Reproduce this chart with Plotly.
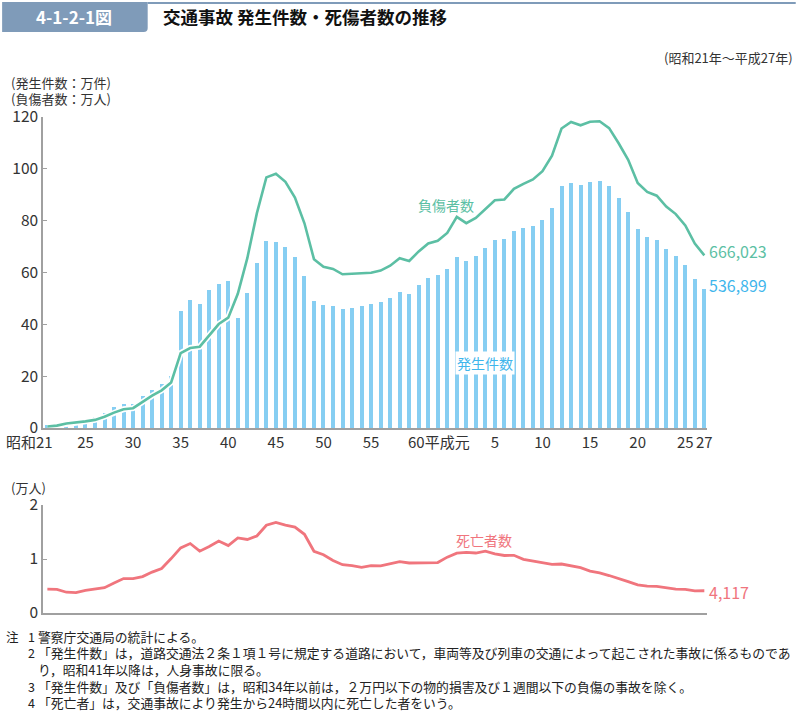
import plotly.graph_objects as go
import numpy as np

years = list(range(1946, 2016))

accidents = [12504, 19123, 21341, 25113, 33212, 41423, 58487, 80019, 93869, 93981,
             122691, 146833, 168799, 201292,
             449917, 493693, 479825, 531966, 557183, 567286, 425944, 521481, 635056, 720880,
             718080, 700290, 659283, 586713, 490452, 472938, 471041, 460649, 464037, 471573,
             476677, 485578, 502261, 526362, 518642, 552788, 579190, 590723, 614481, 661363,
             643097, 662392, 695345, 724675, 729461, 761794, 771085, 780401, 803882, 850371,
             931950, 947253, 936950, 948281, 952720, 934346, 887267, 832704, 766394, 737637,
             725924, 692084, 665157, 629033, 573842, 536899]

injured = [5923, 9193, 17609, 20242, 25450, 31274, 43321, 59280, 72390, 76501,
           102072, 124530, 145432, 175951,
           289156, 308697, 313813, 359089, 401117, 425666, 517775, 655377, 828071, 967000,
           981096, 949689, 889198, 789948, 651420, 622467, 613957, 593211, 594116, 596282,
           598719, 607346, 626192, 654822, 644321, 681346, 712330, 722179, 752845, 814832,
           790295, 810245, 844003, 878633, 881723, 922677, 942203, 958925, 990675, 1050399,
           1155697, 1181039, 1168029, 1181681, 1183617, 1157113, 1098564, 1034652, 945703, 911215,
           896297, 854613, 825392, 781492, 711374, 666023]

deaths = [4409, 4376, 3848, 3790, 4202, 4429, 4696, 5544, 6374, 6379,
          6751, 7575, 8248, 10079,
          12055, 12865, 11445, 12301, 13318, 12484, 13904, 13618, 14256, 16257,
          16765, 16278, 15918, 14574, 11432, 10792, 9734, 8945, 8783, 8466,
          8760, 8719, 9073, 9520, 9262, 9261, 9317, 9347, 10344, 11086,
          11227, 11109, 11452, 10942, 10649, 10684, 9943, 9642, 9214, 9012,
          9073, 8757, 8396, 7768, 7436, 6937, 6415, 5796, 5209, 4979,
          4948, 4691, 4438, 4388, 4113, 4117]

tick_years = [1950, 1955, 1960, 1965, 1970, 1975, 1980, 1993, 1998, 2003, 2008, 2013, 2015]
tick_text = ["25", "30", "35", "40", "45", "50", "55", "5", "10", "15", "20", "25", "27"]

notes = [
    ("注", "1", "警察庁交通局の統計による。"),
    ("", "2", "「発生件数」は，道路交通法２条１項１号に規定する道路において，車両等及び列車の交通によって起こされた事故に係るものであ"),
    ("", "", "り，昭和41年以降は，人身事故に限る。"),
    ("", "3", "「発生件数」及び「負傷者数」は，昭和34年以前は，２万円以下の物的損害及び１週間以下の負傷の事故を除く。"),
    ("", "4", "「死亡者」は，交通事故により発生から24時間以内に死亡した者をいう。"),
]

FONT = "Noto Sans CJK JP"
BAR_C = "#86cef2"
TEAL = "#5cbfa4"
BLUE_T = "#3fb6ec"
RED = "#f0757d"
AX = "#a0a0a0"

acc = np.array(accidents) / 10000
inj = np.array(injured) / 10000
dea = np.array(deaths) / 10000

W, H = 796, 711
L, R, T, B = 41, 89, 117, 98
pw = W - L - R
ph = H - T - B
X0, X1 = 1945.54, 2015.28

def px(xp):
    return (xp - L) / pw
def py(yp):
    return (H - B - yp) / ph

fig = go.Figure()
fig.add_trace(go.Bar(x=years, y=acc, width=0.42, marker=dict(color=BAR_C, line=dict(width=0)),
                     xaxis="x", yaxis="y", hoverinfo="skip"))
fig.add_trace(go.Scatter(x=years, y=inj, mode="lines", line=dict(color="white", width=6),
                         xaxis="x", yaxis="y", hoverinfo="skip"))
fig.add_trace(go.Scatter(x=years, y=inj, mode="lines", line=dict(color=TEAL, width=2.6),
                         xaxis="x", yaxis="y"))
fig.add_trace(go.Scatter(x=years, y=dea, mode="lines", line=dict(color=RED, width=2.8),
                         xaxis="x2", yaxis="y2"))

up_bottom = py(428)
low_top = py(505)

TICKF = dict(size=15.5, color="#333333", family=FONT)

fig.update_layout(
    width=W, height=H, margin=dict(l=L, r=R, t=T, b=B),
    paper_bgcolor="white", plot_bgcolor="white", showlegend=False,
    font=dict(family=FONT, color="#333333", size=15),
    bargap=0,
    xaxis=dict(domain=[0, 1], anchor="y", range=[X0, X1], tickmode="array",
               tickvals=tick_years, ticktext=tick_text, ticks="", showgrid=False,
               zeroline=False, showline=True, linecolor=AX, linewidth=1.5,
               tickfont=dict(size=15, color="#333333", family=FONT), tickangle=0),
    yaxis=dict(domain=[up_bottom, 1], anchor="x", range=[0, 120], tickvals=[0, 20, 40, 60, 80, 100, 120],
               ticks="inside", ticklen=4, tickcolor=AX, showgrid=False, zeroline=False,
               showline=True, linecolor=AX, linewidth=1.5, tickfont=TICKF),
    xaxis2=dict(domain=[0, 1], anchor="y2", range=[X0, X1], matches="x", showticklabels=False,
                ticks="", showgrid=False, zeroline=False, showline=True, linecolor=AX, linewidth=1.5),
    yaxis2=dict(domain=[0, low_top], anchor="x2", range=[0, 2], tickvals=[0, 1, 2],
                ticks="inside", ticklen=4, tickcolor=AX, showgrid=False, zeroline=False,
                showline=True, linecolor=AX, linewidth=1.5, tickfont=TICKF),
)

ann = []
def add(text, xp, yp, size=13, color="#333333", xanchor="left", bold=False, bg=None):
    a = dict(text=("<b>%s</b>" % text) if bold else text, x=px(xp), y=py(yp), xref="paper", yref="paper",
             xanchor=xanchor, yanchor="middle", showarrow=False,
             font=dict(family=FONT, size=size, color=color))
    if bg:
        a["bgcolor"] = bg
        a["borderpad"] = 1
    else:
        a["borderpad"] = 0
    ann.append(a)

# title
add("4-1-2-1図", 72, 17, size=17, color="white", xanchor="center", bold=True)
add("交通事故 発生件数・死傷者数の推移", 160, 17, size=17.5, color="#111111", bold=True)
add("(昭和21年～平成27年)", 794, 57, size=13, color="#333333", xanchor="right")
add("(発生件数：万件)", 8, 83, size=13, color="#333333")
add("(負傷者数：万人)", 8, 99, size=13, color="#333333")
# start / era-change x labels
add("昭和21", 3, 441, size=15, color="#333333")
add("60平成元", 406, 441, size=15, color="#333333")
add("(万人)", 8, 487, size=13, color="#333333")

add("負傷者数", 445, 205, size=14, color=TEAL, xanchor="center")
add("発生件数", 484, 363, size=14, color=BLUE_T, xanchor="center", bg="white")
add("666,023", 708, 251, size=16, color=TEAL)
add("536,899", 708, 285, size=16, color=BLUE_T)
add("死亡者数", 483, 540, size=14, color=RED, xanchor="center")
add("4,117", 708, 592, size=16, color=RED)

ny = [636, 652, 669, 686, 702]
for (a0, a1, a2), yv in zip(notes, ny):
    if a0:
        add(a0, 3, yv, size=12.5, color="#222222")
    if a1:
        add(a1, 25, yv, size=12.5, color="#222222")
    add(a2, 35, yv, size=12.8, color="#222222")

fig.update_layout(annotations=ann)

# header shapes
shapes = [
    dict(type="path", xref="paper", yref="paper",
         path="M %f %f L %f %f L %f %f Q %f %f %f %f L %f %f Z" % (
             px(0), py(2), px(146), py(2), px(146), py(28), px(146), py(32), px(142), py(32), px(0), py(32)),
         fillcolor="#7f9bb9", line=dict(width=0), layer="below"),
    dict(type="line", xref="paper", yref="paper", x0=px(146), x1=px(796), y0=py(3), y1=py(3),
         line=dict(color="#7f9bb9", width=2)),
]
fig.update_layout(shapes=shapes)

fig.write_html("out.html", config={"displayModeBar": False},
               post_script="document.body.style.margin='0px';document.body.style.padding='0px';")
